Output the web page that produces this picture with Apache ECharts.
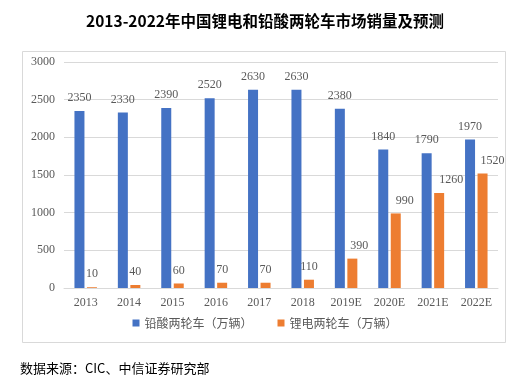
<!DOCTYPE html>
<html><head><meta charset="utf-8">
<script src="https://cdn.jsdelivr.net/npm/echarts@6/dist/echarts.min.js"></script>
<style>html,body{margin:0;padding:0;background:#fff}#c{width:530px;height:388px}</style>
</head><body><div id="c"></div>
<script>
const categories = ['2013','2014','2015','2016','2017','2018','2019E','2020E','2021E','2022E'];
const leadAcid = [2350,2330,2390,2520,2630,2630,2380,1840,1790,1970];
const lithium = [10,40,60,70,70,110,390,990,1260,1520];
const seriesNames = ['铅酸两轮车（万辆）','锂电两轮车（万辆）'];
const yTicks = [0,500,1000,1500,2000,2500,3000];
const lithiumLabelShift = [0,0,0,0,0,0,7,9,12,10];

const serif = '"Liberation Serif","DejaVu Serif","Noto Sans CJK SC",serif';
const chart = echarts.init(document.getElementById('c'), null, {renderer:'canvas'});
chart.setOption({
  animation:false,
  backgroundColor:'#fff',
  title:{text:'2013-2022年中国锂电和铅酸两轮车市场销量及预测',left:'center',top:8,
    textStyle:{fontFamily:'"Noto Sans CJK SC",sans-serif',fontSize:15.5,fontWeight:'bold',color:'#000'}},
  graphic:[
    {type:'rect',shape:{x:22.5,y:51.5,width:483,height:291},style:{fill:'none',stroke:'#d9d9d9',lineWidth:1}},
    {type:'text',left:20,top:362,style:{text:'数据来源：CIC、中信证券研究部',font:'13px "Noto Sans CJK SC", sans-serif',fill:'#000'}}
  ],
  grid:{left:64,right:32,top:62,bottom:100},
  legend:{bottom:54,left:'center',itemWidth:7,itemHeight:7,itemGap:25,icon:'rect',
    textStyle:{fontFamily:'"Noto Sans CJK SC",sans-serif',fontSize:12,color:'#595959'},
    data:seriesNames},
  xAxis:{type:'category',data:categories,
    axisLine:{lineStyle:{color:'#d9d9d9'}},axisTick:{show:false},
    axisLabel:{fontFamily:serif,fontSize:12,color:'#595959',margin:9}},
  yAxis:{type:'value',min:0,max:3000,interval:500,
    axisLine:{show:false},axisTick:{show:false},
    splitLine:{lineStyle:{color:'#d9d9d9'}},
    axisLabel:{fontFamily:serif,fontSize:12,color:'#595959',margin:9,
      formatter:v=>yTicks.includes(v)?String(v):''}},
  series:[
    {name:seriesNames[0],type:'bar',data:leadAcid,barWidth:10,barGap:'25%',
      itemStyle:{color:'#4472C4'},
      label:{show:true,position:'top',distance:7,fontFamily:serif,fontSize:12,color:'#595959'}},
    {name:seriesNames[1],type:'bar',barWidth:10,
      data:lithium.map((v,i)=>({value:v,label:{offset:[lithiumLabelShift[i],0]}})),
      itemStyle:{color:'#ED7D31'},
      label:{show:true,position:'top',distance:7,fontFamily:serif,fontSize:12,color:'#595959'}}
  ]
});
</script></body></html>
